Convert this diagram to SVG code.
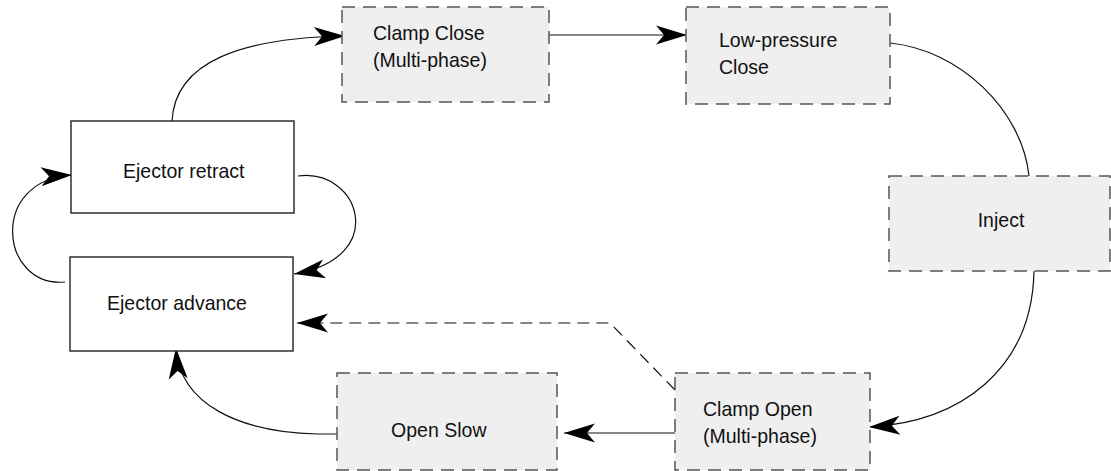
<svg xmlns="http://www.w3.org/2000/svg" width="1111" height="471" viewBox="0 0 1111 471">
  <style>
    .phase { fill: #efefef; stroke: #555555; stroke-width: 1.5; stroke-dasharray: 13 8; }
    .step { fill: #ffffff; stroke: #222222; stroke-width: 1.4; }
    .label { font-family: "Liberation Sans", Arial, sans-serif; font-size: 21px; fill: #111111; }
    .flow { fill: none; stroke: #111111; stroke-width: 1.2; }
    .dashed { stroke-dasharray: 12 7; }
  </style>
  <defs>
    <marker id="head" markerUnits="userSpaceOnUse" markerWidth="40" markerHeight="26" viewBox="-34 -13 40 26" refX="0" refY="0" orient="auto">
      <path d="M0,0 L-31,-9.5 Q-25,-2.5 -23,0 Q-25,2.5 -31,9.5 Z" fill="#000000"/>
    </marker>
  </defs>

  <rect width="1111" height="471" fill="#ffffff"/>

  <!-- connectors -->
  <g id="connectors">
    <path class="flow" d="M172,121 C175,62 240,38 345,36" marker-end="url(#head)"/>
    <path class="flow" d="M549,35 L687,35" marker-end="url(#head)"/>
    <path class="flow" d="M890,43 C960,50 1022,110 1029,176"/>
    <path class="flow" d="M1034,271 C1032,370 960,422 869,427" marker-end="url(#head)"/>
    <path class="flow" d="M675,433 L564,433" marker-end="url(#head)"/>
    <path class="flow" d="M337,434 L317,434 C240,432 180,405 176,348" marker-end="url(#head)"/>
    <path class="flow" d="M298,176 C360,168 390,258 294,274" marker-end="url(#head)"/>
    <path class="flow" d="M65,282 C0,288 -12,180 72,175" marker-end="url(#head)"/>
    <path class="flow dashed" d="M675,390 L610,323 L297,323" marker-end="url(#head)"/>
  </g>

  <!-- ejector steps -->
  <g id="ejector-retract">
    <rect class="step" x="71" y="121" width="223" height="92"/>
    <text class="label" transform="translate(123 178) scale(0.93 1)">Ejector retract</text>
  </g>
  <g id="ejector-advance">
    <rect class="step" x="70" y="257" width="223" height="94"/>
    <text class="label" transform="translate(107 310) scale(0.93 1)">Ejector advance</text>
  </g>

  <!-- machine phases -->
  <g id="clamp-close">
    <rect class="phase" x="342" y="7" width="207" height="95"/>
    <text class="label" transform="translate(373 40) scale(0.93 1)">Clamp Close</text>
    <text class="label" transform="translate(373 67) scale(0.93 1)">(Multi-phase)</text>
  </g>
  <g id="low-pressure-close">
    <rect class="phase" x="686" y="7" width="204" height="97"/>
    <text class="label" transform="translate(719 47) scale(0.93 1)">Low-pressure</text>
    <text class="label" transform="translate(719 74) scale(0.93 1)">Close</text>
  </g>
  <g id="inject">
    <rect class="phase" x="889" y="176" width="221" height="95"/>
    <text class="label" text-anchor="middle" transform="translate(1001 227) scale(0.93 1)">Inject</text>
  </g>
  <g id="clamp-open">
    <rect class="phase" x="675" y="373" width="195" height="97"/>
    <text class="label" transform="translate(703 416) scale(0.93 1)">Clamp Open</text>
    <text class="label" transform="translate(703 443) scale(0.93 1)">(Multi-phase)</text>
  </g>
  <g id="open-slow">
    <rect class="phase" x="337" y="373" width="220" height="97"/>
    <text class="label" transform="translate(391 437) scale(0.93 1)">Open Slow</text>
  </g>
</svg>
